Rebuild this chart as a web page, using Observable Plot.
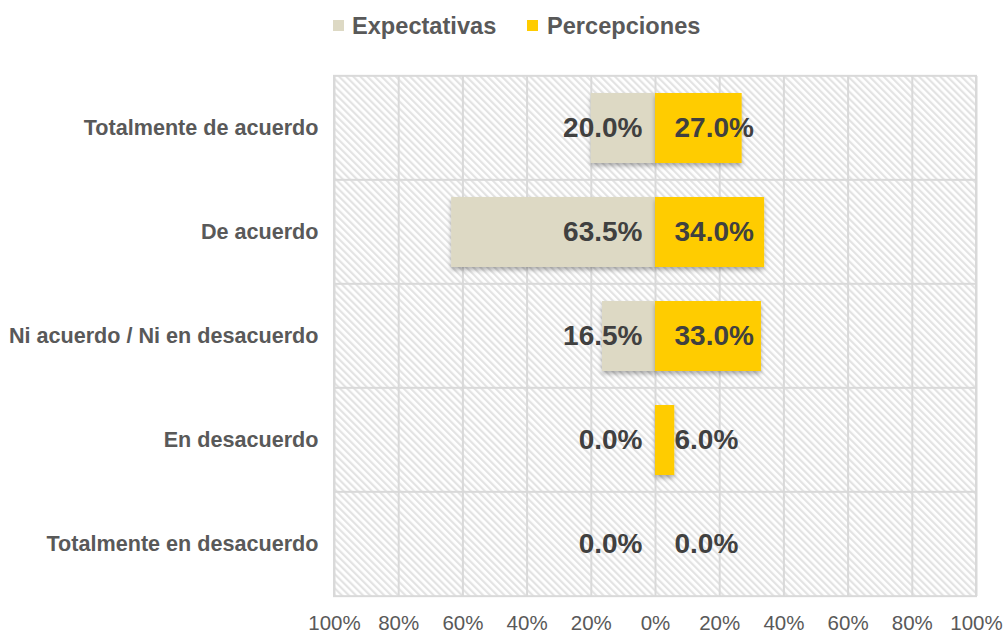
<!DOCTYPE html>
<html><head><meta charset="utf-8">
<script src="https://cdn.jsdelivr.net/npm/d3@7"></script>
<script src="https://cdn.jsdelivr.net/npm/@observablehq/plot@0.6"></script>
<style>
body{margin:0;background:#fff;font-family:"Liberation Sans",Arial,sans-serif;}
#legend{position:relative;height:50px;width:1007px;}
.lg-sq{position:absolute;top:20px;width:11px;height:11px;}
.lg-tx{position:absolute;top:12px;font-size:23.6px;font-weight:bold;color:#595959;line-height:28px;}
g[aria-label="y-axis tick label"] text{font-weight:bold;font-size:21.6px;fill:#595959;}
g[aria-label="x-axis tick label"] text{font-size:20.5px;fill:#595959;}
</style></head><body>
<div id="legend"></div><div id="chart"></div>
<script>
const categories = ["Totalmente de acuerdo","De acuerdo","Ni acuerdo / Ni en desacuerdo","En desacuerdo","Totalmente en desacuerdo"];
const expectativas = [20.0, 63.5, 16.5, 0.0, 0.0];
const percepciones = [27.0, 34.0, 33.0, 6.0, 0.0];
const seriesNames = ["Expectativas","Percepciones"];
const seriesColors = ["#DDD9C4","#FFCC00"];
const xTicks = [-100,-80,-60,-40,-20,0,20,40,60,80,100];

const rows = categories.map((c,i)=>({cat:c, exp:expectativas[i], per:percepciones[i]}));

// legend
const legend = document.getElementById("legend");
const lgPos = [[333,352],[527,547]];
seriesNames.forEach((n,i)=>{
  const sq=document.createElement("div");sq.className="lg-sq";sq.style.left=lgPos[i][0]+"px";sq.style.background=seriesColors[i];legend.appendChild(sq);
  const tx=document.createElement("div");tx.className="lg-tx";tx.style.left=lgPos[i][1]+"px";tx.textContent=n;legend.appendChild(tx);
});

const step = 104, pin = 0.33, inset = -(step*pin/2);
const labelStyle = {fontSize: 28, fontWeight: "bold", fill: "#404040"};
const chart = Plot.plot({
  width: 1007, height: 583,
  marginTop: 26, marginBottom: 37, marginLeft: 334, marginRight: 31,
  style: {fontFamily: "'Liberation Sans', Arial, sans-serif", background: "#fff"},
  x: {domain: [-100,100], ticks: xTicks, tickFormat: d => Math.abs(d)+"%"},
  y: {domain: categories, paddingInner: pin, paddingOuter: pin/2, label: null},
  marks: [
    Plot.barX(rows, {y: "cat", x1: -100, x2: 100, insetTop: inset, insetBottom: inset, fill: "url(#hatch)", stroke: "#d9d9d9", strokeWidth: 2}),
    Plot.gridX({ticks: xTicks, stroke: "#d9d9d9", strokeOpacity: 1, strokeWidth: 2}),
    Plot.barX(rows, {y: "cat", x1: 0, x2: d => -d.exp, fill: seriesColors[0]}),
    Plot.barX(rows, {y: "cat", x1: 0, x2: d => d.per, fill: seriesColors[1]}),
    Plot.text(rows, {y: "cat", x: () => 0, text: d => d.exp.toFixed(1)+"%", textAnchor: "end", dx: -13, ...labelStyle}),
    Plot.text(rows, {y: "cat", x: () => 0, text: d => d.per.toFixed(1)+"%", textAnchor: "start", dx: 19, ...labelStyle}),
    Plot.axisX({ticks: xTicks, tickFormat: d => Math.abs(d)+"%", tickSize: 0, tickPadding: 19, label: null}),
    Plot.axisY({tickSize: 0, tickPadding: 16, label: null})
  ]
});
const svg = d3.select(chart);
const defs = svg.insert("defs", ":first-child");
const pat = defs.append("pattern").attr("id","hatch").attr("patternUnits","userSpaceOnUse")
  .attr("width",5).attr("height",5).attr("patternTransform","rotate(-45)");
pat.append("rect").attr("width",5).attr("height",5).attr("fill","#fff");
pat.append("rect").attr("width",2.2).attr("height",5).attr("fill","#e3e3e3");
const f = defs.append("filter").attr("id","shadow").attr("x","-20%").attr("y","-20%").attr("width","140%").attr("height","150%");
f.append("feDropShadow").attr("dx",0).attr("dy",3).attr("stdDeviation",2).attr("flood-color","#000").attr("flood-opacity",0.3);
svg.selectAll('g[aria-label="bar"]').filter((d,i)=> i > 0).attr("filter","url(#shadow)");
document.getElementById("chart").appendChild(chart);
</script>
</body></html>
